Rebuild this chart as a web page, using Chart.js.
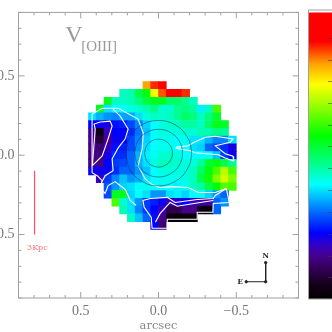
<!DOCTYPE html>
<html>
<head>
<meta charset="utf-8">
<style>
  html, body { margin: 0; padding: 0; background: #fff; overflow: hidden; }
  canvas { position: absolute; top: 0; }
  #map { left: 0; }
  #bar { left: 300px; }
</style>
<script src="https://cdn.jsdelivr.net/npm/chart.js@4"></script>
</head>
<body>
<canvas id="map" width="332" height="332"></canvas>
<canvas id="bar" width="32" height="332"></canvas>
<script>
// cell centres, arcsec
const colX = [0.425,0.375,0.325,0.275,0.225,0.175,0.125,0.075,0.025,-0.025,-0.075,-0.125,-0.175,-0.225,-0.275,-0.325,-0.375,-0.425,-0.475];
const rowY = [0.439,0.390,0.341,0.292,0.243,0.194,0.145,0.096,0.047,-0.002,-0.051,-0.100,-0.149,-0.198,-0.247,-0.296,-0.345,-0.394,-0.443];

// velocity per cell, on the colour bar's 0-100 scale, top row first
const _ = null;
const velocity = [
  [_,_,_,_,_,_,_,82,88,90,_,_,_,_,_,_,_,_,_],
  [_,_,_,_,44,45,52,56,74,86,90,90,88,_,_,_,_,_,_],
  [_,_,55,44,44,45,48,53,55,55,50,50,47,44,_,_,_,_,_],
  [_,55,38,40,40,42,43,45,48,43,43,47,48,46,39,44,62,_,_],
  [38,35,33,32,34,34,38,42,44,43,44,47,50,48,44,48,54,_,_],
  [23,22,21,24,25,28,32,37,40,42,43,44,46,46,44,50,55,54,_],
  [16,4,18,23,23,26,31,36,40,42,42,42,43,43,45,45,48,47,_],
  [15,8,15,22,23,28,32,37,40,41,41,40,41,38,38,35,32,32,38],
  [15,13,18,24,25,28,33,38,40,41,41,40,40,38,37,30,28,26,21],
  [14,14,21,26,26,30,35,39,41,43,43,42,40,40,40,40,36,27,22],
  [14,15,23,27,28,30,35,38,42,44,44,43,42,42,46,54,56,52,47],
  [22,22,22,26,30,30,33,36,40,42,42,42,42,44,50,56,62,70,62],
  [_,18,27,32,36,33,35,38,40,41,41,41,42,44,52,58,66,72,66],
  [_,_,29,33,37,38,40,41,40,40,40,39,41,44,46,52,57,63,62],
  [_,_,28,55,55,37,40,38,33,33,38,39,37,40,40,37,33,30,_],
  [_,_,_,62,43,38,33,27,25,22,18,20,23,18,17,16,30,33,_],
  [_,_,_,_,45,38,32,27,23,19,10,10,15,15,4,2,30,_,_],
  [_,_,_,_,_,44,36,30,24,15,3,2,2,2,_,_,_,_,_],
  [_,_,_,_,_,_,_,_,23,13,_,_,_,_,_,_,_,_,_]
];

const colorStops = [
  [0,0,0,0],[5,20,0,25],[10,48,0,80],[15,70,0,140],[19,50,0,200],[23,0,0,255],
  [30,0,100,255],[35,0,180,255],[40,0,255,255],[48,0,255,128],[57,0,255,0],
  [66,128,255,0],[75,255,255,0],[82,255,165,0],[90,255,0,0],[100,255,0,0]
];
const barTicks = [7.6,15.2,22.8,30.4,38,45.7,53.3,60.9,68.5,76.1,83.7,91.3];

// white velocity contours, [x, y] in arcsec
const contourBig = [[0.427,0.259],[0.362,0.296],[0.259,0.296],[0.131,0.228],[0.098,0.140],[0.105,0.040],[0.131,-0.066],[0.086,-0.148],[0.041,-0.185],[-0.011,-0.204],[-0.089,-0.198],[-0.191,-0.204],[-0.256,-0.235],[-0.365,-0.235],[-0.436,-0.210]];
const contourLeft = [[0.427,0.259],[0.427,-0.110],[0.394,-0.129],[0.362,-0.160],[0.375,-0.204],[0.343,-0.241],[0.324,-0.191],[0.279,-0.166],[0.214,-0.216],[0.182,-0.285],[0.144,-0.316]];
const contourBlue = [[0.292,0.290],[0.246,0.246],[0.195,0.165],[0.214,0.103],[0.259,0.046],[0.298,-0.023],[0.292,-0.098],[0.343,-0.129],[0.369,-0.179]];
const contourPurple = [[0.425,-0.066],[0.407,0.165],[0.414,0.196],[0.375,0.209],[0.311,0.215],[0.298,0.184],[0.324,0.103],[0.362,-0.004],[0.425,-0.066]];
const contourTail = [[-0.114,0.051],[-0.185,0.057],[-0.223,0.078],[-0.301,0.113],[-0.365,0.119],[-0.479,0.103],[-0.461,0.082],[-0.365,0.059],[-0.429,0.009],[-0.479,-0.006],[-0.483,-0.037],[-0.429,-0.018],[-0.384,0.003],[-0.236,0.015],[-0.204,0.028],[-0.114,0.044],[-0.114,0.051]];
const contourLow = [[-0.436,-0.210],[-0.455,-0.298],[-0.352,-0.304],[-0.350,-0.360],[-0.249,-0.360],[-0.249,-0.404],[-0.056,-0.404],[-0.056,-0.460],[0.041,-0.460],[0.047,-0.391],[0.092,-0.329],[0.100,-0.285],[0.053,-0.273],[-0.056,-0.266],[-0.107,-0.298],[-0.249,-0.279],[-0.352,-0.273],[-0.365,-0.254],[-0.436,-0.210]];
const contourBlack = [[0.020,-0.423],[-0.011,-0.367],[-0.075,-0.298],[-0.120,-0.322],[-0.268,-0.298],[-0.352,-0.285]];

// dark continuum rings
const ringSmall = [[0.090,0.013],[0.078,0.057],[0.045,0.089],[0,0.101],[-0.045,0.089],[-0.078,0.057],[-0.090,0.013],[-0.078,-0.031],[-0.045,-0.063],[0,-0.075],[0.045,-0.063],[0.078,-0.031],[0.090,0.013]];
const ringMid = [[0.154,0.013],[0.134,0.088],[0.077,0.143],[0,0.163],[-0.077,0.143],[-0.134,0.088],[-0.154,0.013],[-0.134,-0.062],[-0.077,-0.117],[0,-0.137],[0.077,-0.117],[0.134,-0.062],[0.154,0.013]];
const ringLarge = [[0.212,0.013],[0.184,0.116],[0.106,0.192],[0,0.219],[-0.106,0.192],[-0.184,0.116],[-0.212,0.013],[-0.184,-0.090],[-0.106,-0.166],[0,-0.193],[0.106,-0.166],[0.184,-0.090],[0.212,0.013]];

const scaleBar = [[0.797,-0.0975],[0.797,-0.5]];
const compass = [[-0.689,-0.677],[-0.689,-0.7975],[-0.564,-0.7975]];

function colorFor(v) {
  for (let i = 1; i < colorStops.length; i++) {
    const a = colorStops[i - 1], b = colorStops[i];
    if (v <= b[0]) {
      const t = (v - a[0]) / (b[0] - a[0]);
      return `rgb(${a[1] + (b[1] - a[1]) * t},${a[2] + (b[2] - a[2]) * t},${a[3] + (b[3] - a[3]) * t})`;
    }
  }
  return 'rgb(255,0,0)';
}

const cells = [], cellColors = [];
velocity.forEach((row, r) => row.forEach((v, c) => {
  if (v === null) return;
  cells.push({ x: colX[c], y: [rowY[r] - 0.0245, rowY[r] + 0.0245] });
  cellColors.push(colorFor(v));
}));

function lineSet(points, color, width, tension, radius) {
  return {
    type: 'line', order: 1,
    data: points.map(p => ({ x: p[0], y: p[1] })),
    borderColor: color, backgroundColor: color, borderWidth: width,
    tension: tension || 0, pointRadius: radius || 0, fill: false
  };
}

const axisGray = '#a0a0a0';
const labelFont = '"Liberation Serif", serif';

// inside ticks on all four sides, IDL style
function boxTicks(chart) {
  const { ctx, chartArea: a, scales } = chart;
  ctx.save();
  ctx.strokeStyle = axisGray;
  ctx.lineWidth = 1;
  ctx.strokeRect(a.left, a.top, a.right - a.left, a.bottom - a.top);
  ctx.beginPath();
  scales.x.ticks.forEach(t => {
    const px = scales.x.getPixelForValue(t.value);
    const len = t.label ? 6 : 3;
    ctx.moveTo(px, a.bottom); ctx.lineTo(px, a.bottom - len);
    ctx.moveTo(px, a.top); ctx.lineTo(px, a.top + len);
  });
  scales.y.ticks.forEach(t => {
    const py = scales.y.getPixelForValue(t.value);
    const len = t.label ? 6 : 3;
    ctx.moveTo(a.left, py); ctx.lineTo(a.left + len, py);
    ctx.moveTo(a.right, py); ctx.lineTo(a.right - len, py);
  });
  ctx.stroke();
  ctx.restore();
}

function notes(chart) {
  const { ctx, scales } = chart;
  const put = (text, x, y, font, color, align) => {
    ctx.font = font;
    ctx.fillStyle = color;
    ctx.textAlign = align || 'left';
    ctx.textBaseline = 'middle';
    ctx.fillText(text, scales.x.getPixelForValue(x), scales.y.getPixelForValue(y));
  };
  ctx.save();
  put('V', 0.6, 0.75, '24px ' + labelFont, '#999');
  put('[OIII]', 0.497, 0.684, '15px ' + labelFont, '#999');
  put('3Kpc', 0.845, -0.585, '8px "DejaVu Serif", serif', '#ff7080');
  put('N', -0.689, -0.635, 'bold 7px "DejaVu Serif", serif', '#222', 'center');
  put('E', -0.525, -0.7975, 'bold 7px "DejaVu Serif", serif', '#222', 'center');
  ctx.restore();
}

new Chart(document.getElementById('map'), {
  type: 'bar',
  data: {
    datasets: [
      { type: 'bar', order: 5, data: cells, backgroundColor: cellColors, barThickness: 7.8, grouped: false, borderWidth: 0 },
      lineSet(ringSmall, 'rgba(20,50,60,0.65)', 0.8, 0.4),
      lineSet(ringMid, 'rgba(20,50,60,0.65)', 0.8, 0.4),
      lineSet(ringLarge, 'rgba(20,50,60,0.65)', 0.8, 0.4),
      lineSet(contourBig, '#fff', 1.1),
      lineSet(contourLeft, '#fff', 1.1),
      lineSet(contourBlue, '#fff', 1.1),
      lineSet(contourPurple, '#fff', 1.1),
      lineSet(contourTail, '#fff', 1.1),
      lineSet(contourLow, '#fff', 1.1),
      lineSet(contourBlack, '#fff', 1.1),
      lineSet(scaleBar, '#ff5060', 1.2),
      lineSet(compass, '#222', 1, 0, 1.2)
    ]
  },
  options: {
    responsive: false,
    animation: false,
    layout: { padding: { top: 10.5, right: 33.5, left: 0, bottom: 0 } },
    plugins: { legend: { display: false }, tooltip: { enabled: false } },
    scales: {
      x: {
        type: 'linear', min: -0.9, max: 0.9, reverse: true, offset: false,
        afterFit: s => { s.height = 34; },
        grid: { display: false, drawTicks: false }, border: { display: false },
        ticks: {
          stepSize: 0.1, autoSkip: false, maxRotation: 0, padding: 5,
          font: { family: labelFont, size: 14 }, color: '#777',
          callback: majorLabel
        },
        title: { display: true, text: 'arcsec', color: '#888', font: { family: '"DejaVu Serif", serif', size: 11.5 }, padding: { top: 0, bottom: -1 } }
      },
      y: {
        type: 'linear', min: -0.9, max: 0.9,
        afterFit: s => { s.width = 18.5; },
        grid: { display: false, drawTicks: false }, border: { display: false },
        ticks: {
          stepSize: 0.1, autoSkip: false, padding: 4,
          font: { family: labelFont, size: 14 }, color: '#777',
          callback: majorLabel
        }
      }
    }
  },
  plugins: [{ id: 'frame', afterDatasetsDraw: boxTicks, afterDraw: notes }]
});

function majorLabel(v) {
  const tenths = Math.round(v * 10);
  if (tenths % 5 !== 0) return '';
  if (tenths === 0) return '0.0';
  return (tenths < 0 ? '\u2212' : '') + Math.abs(tenths / 10).toFixed(1);
}

// colour bar
new Chart(document.getElementById('bar'), {
  type: 'bar',
  data: {
    labels: ['v'],
    datasets: [{
      data: [[0, 100]],
      barPercentage: 1, categoryPercentage: 1, borderWidth: 0,
      backgroundColor: c => {
        const a = c.chart.chartArea;
        if (!a) return '#000';
        const y = c.chart.scales.y;
        const g = c.chart.ctx.createLinearGradient(0, y.getPixelForValue(0), 0, y.getPixelForValue(100));
        colorStops.forEach(s => g.addColorStop(s[0] / 100, `rgb(${s[1]},${s[2]},${s[3]})`));
        return g;
      }
    }]
  },
  options: {
    responsive: false,
    animation: false,
    layout: { padding: { left: 8.5, top: 10, bottom: 33, right: 0 } },
    plugins: { legend: { display: false }, tooltip: { enabled: false } },
    scales: {
      x: { display: false, offset: true },
      y: { display: false, min: 0, max: 101 }
    }
  },
  plugins: [{
    id: 'barFrame',
    afterDraw(chart) {
      const { ctx, chartArea: a, scales } = chart;
      ctx.save();
      ctx.strokeStyle = axisGray;
      ctx.beginPath();
      ctx.moveTo(a.right + 1, a.top); ctx.lineTo(a.left, a.top);
      ctx.lineTo(a.left, a.bottom); ctx.lineTo(a.right + 1, a.bottom);
      ctx.stroke();
      ctx.strokeStyle = 'rgba(60,60,60,0.55)';
      ctx.beginPath();
      barTicks.forEach(t => {
        const py = Math.round(scales.y.getPixelForValue(t)) + 0.5;
        ctx.moveTo(a.right, py); ctx.lineTo(a.right - 4, py);
      });
      ctx.stroke();
      ctx.restore();
    }
  }]
});
</script>
</body>
</html>
